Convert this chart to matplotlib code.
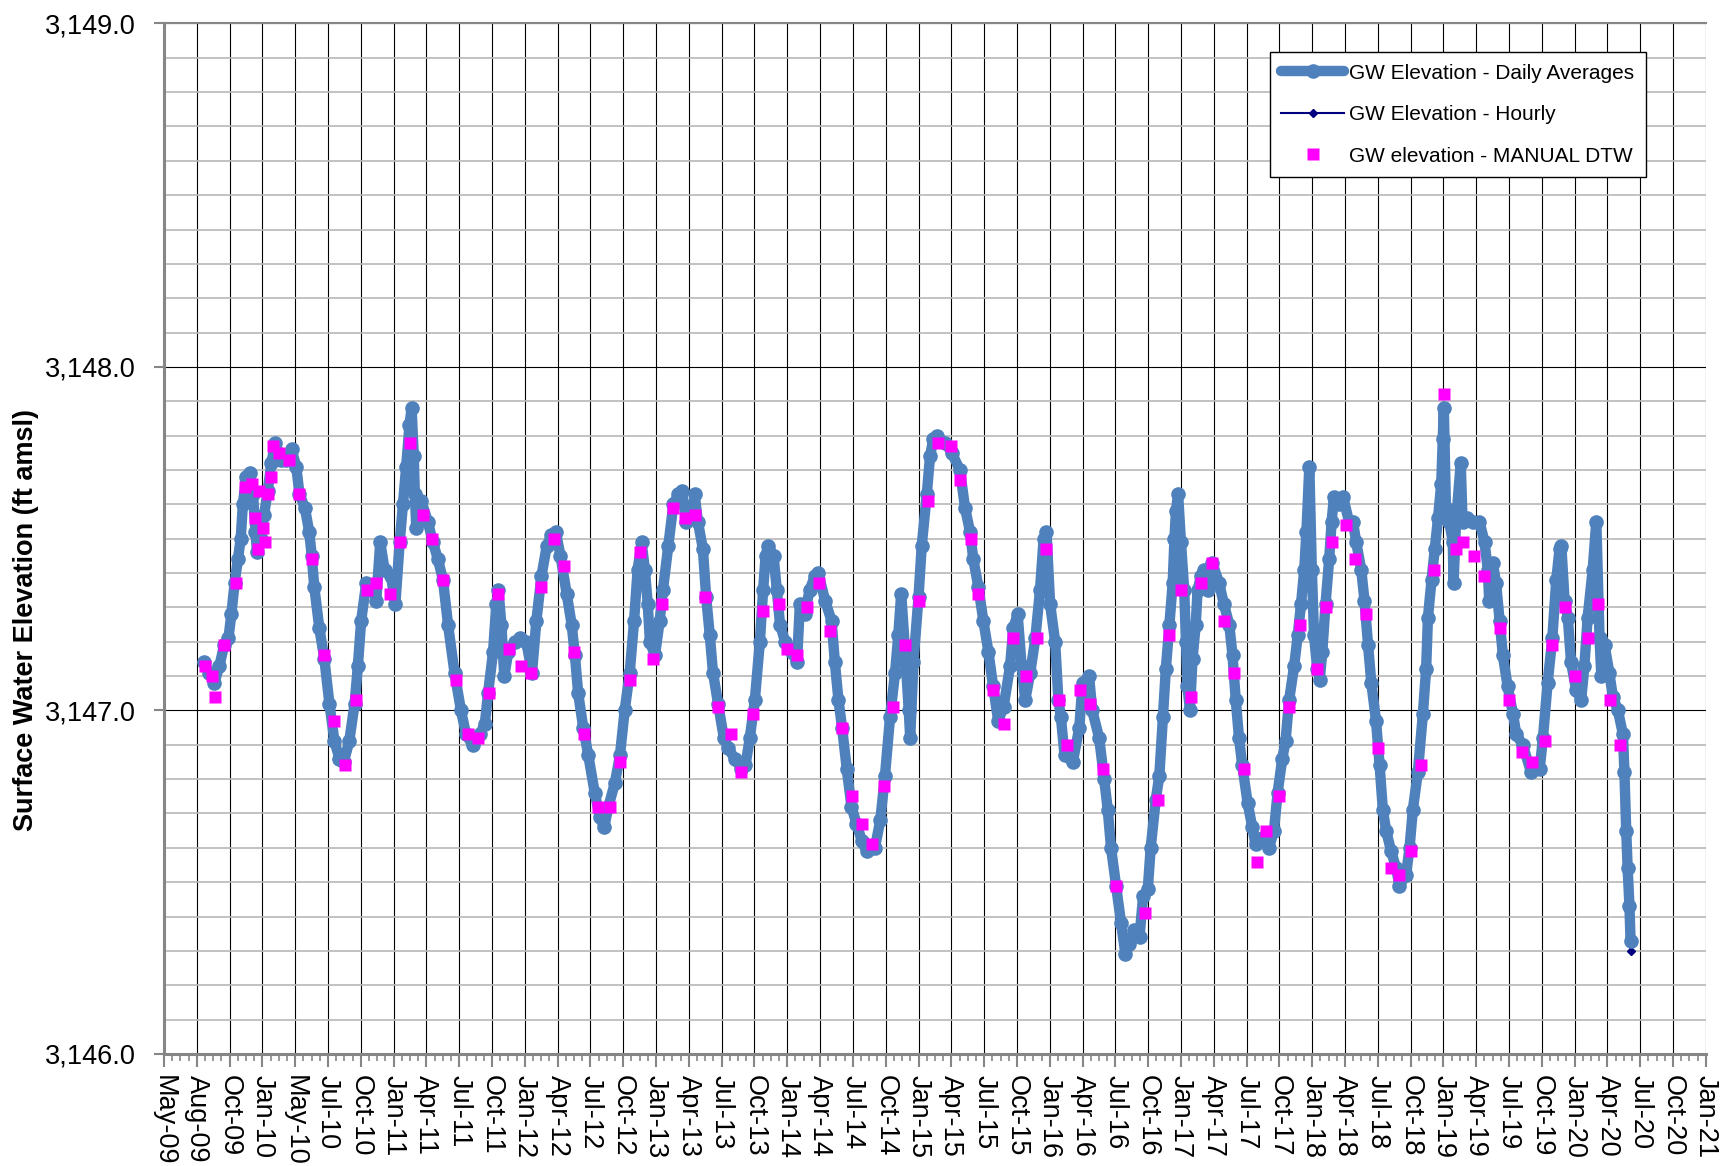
import matplotlib
matplotlib.use('Agg')
import matplotlib.pyplot as plt
import matplotlib.dates as mdates
import matplotlib.ticker as ticker
import pandas as pd
import datetime as dt

plt.rcParams['font.family'] = ['Liberation Sans', 'DejaVu Sans']

# GW elevation - daily averages (one line per year)
daily_dates = [
    '2009-08-20', '2009-09-05', '2009-09-19', '2009-10-03', '2009-10-16', '2009-10-28', '2009-11-05', '2009-11-14', '2009-11-23', '2009-12-01', '2009-12-07', '2009-12-16', '2009-12-26',
    '2010-01-04', '2010-01-11', '2010-01-15', '2010-01-25', '2010-02-04', '2010-02-14', '2010-02-24', '2010-03-07', '2010-03-23', '2010-04-06', '2010-04-21', '2010-05-04', '2010-05-13', '2010-05-28', '2010-06-09', '2010-06-16', '2010-06-23', '2010-07-07', '2010-07-21', '2010-08-04', '2010-08-18', '2010-09-01', '2010-09-13', '2010-09-28', '2010-10-13', '2010-10-22', '2010-10-31', '2010-11-14', '2010-11-29', '2010-12-12', '2010-12-23',
    '2011-01-04', '2011-01-22', '2011-02-03', '2011-02-15', '2011-02-24', '2011-03-05', '2011-03-14', '2011-03-20', '2011-03-26', '2011-03-29', '2011-04-02', '2011-04-16', '2011-05-04', '2011-05-18', '2011-06-01', '2011-06-15', '2011-06-29', '2011-07-17', '2011-08-04', '2011-08-18', '2011-09-05', '2011-09-25', '2011-10-09', '2011-10-18', '2011-11-01', '2011-11-10', '2011-11-16', '2011-11-24', '2011-12-02', '2011-12-13', '2011-12-31',
    '2012-01-14', '2012-02-01', '2012-02-17', '2012-02-29', '2012-03-14', '2012-03-29', '2012-04-11', '2012-04-23', '2012-05-06', '2012-05-23', '2012-06-06', '2012-06-15', '2012-06-24', '2012-07-08', '2012-07-22', '2012-08-09', '2012-08-23', '2012-09-04', '2012-09-16', '2012-10-04', '2012-10-18', '2012-10-31', '2012-11-14', '2012-11-26', '2012-12-06', '2012-12-17', '2012-12-26',
    '2013-01-03', '2013-01-09', '2013-01-23', '2013-02-05', '2013-02-14', '2013-03-01', '2013-03-15', '2013-03-29', '2013-04-07', '2013-04-20', '2013-05-04', '2013-05-13', '2013-05-22', '2013-06-05', '2013-06-14', '2013-06-24', '2013-07-03', '2013-07-17', '2013-08-02', '2013-08-14', '2013-09-01', '2013-09-20', '2013-10-01', '2013-10-13', '2013-10-27', '2013-11-10', '2013-11-19', '2013-11-26', '2013-12-03', '2013-12-18', '2013-12-27',
    '2014-01-05', '2014-01-19', '2014-02-06', '2014-02-21', '2014-03-01', '2014-03-14', '2014-03-28', '2014-04-11', '2014-04-21', '2014-05-10', '2014-05-28', '2014-06-06', '2014-06-16', '2014-06-26', '2014-07-09', '2014-07-22', '2014-08-05', '2014-08-20', '2014-09-02', '2014-09-25', '2014-10-10', '2014-10-23', '2014-11-06', '2014-11-20', '2014-11-29', '2014-12-07', '2014-12-18', '2014-12-28',
    '2015-01-01', '2015-01-10', '2015-01-24', '2015-02-02', '2015-02-16', '2015-02-25', '2015-03-06', '2015-03-15', '2015-04-08', '2015-04-26', '2015-05-19', '2015-06-02', '2015-06-16', '2015-06-25', '2015-07-09', '2015-07-23', '2015-08-06', '2015-08-19', '2015-09-02', '2015-09-17', '2015-10-05', '2015-10-14', '2015-10-26', '2015-11-06', '2015-11-16', '2015-11-30', '2015-12-14', '2015-12-27',
    '2016-01-06', '2016-01-14', '2016-01-24', '2016-02-07', '2016-02-16', '2016-02-23', '2016-03-04', '2016-03-27', '2016-04-14', '2016-04-23', '2016-05-11', '2016-05-20', '2016-06-08', '2016-06-22', '2016-07-02', '2016-07-11', '2016-07-25', '2016-08-08', '2016-08-20', '2016-08-31', '2016-09-14', '2016-09-28', '2016-10-08', '2016-10-21', '2016-10-29', '2016-11-12', '2016-11-22', '2016-12-02', '2016-12-10', '2016-12-20', '2016-12-29',
    '2017-01-03', '2017-01-07', '2017-01-13', '2017-01-21', '2017-01-30', '2017-02-04', '2017-02-08', '2017-02-15', '2017-02-22', '2017-03-03', '2017-03-08', '2017-03-17', '2017-03-27', '2017-04-05', '2017-04-18', '2017-05-07', '2017-05-20', '2017-06-04', '2017-06-13', '2017-06-22', '2017-07-01', '2017-07-10', '2017-07-25', '2017-08-07', '2017-08-16', '2017-09-04', '2017-09-22', '2017-10-06', '2017-10-16', '2017-10-29', '2017-11-07', '2017-11-17', '2017-12-01', '2017-12-11', '2017-12-20', '2017-12-29',
    '2018-01-04', '2018-01-12', '2018-01-19', '2018-01-25', '2018-02-03', '2018-02-10', '2018-02-17', '2018-02-26', '2018-03-08', '2018-03-15', '2018-03-21', '2018-04-05', '2018-04-16', '2018-05-02', '2018-05-13', '2018-05-22', '2018-06-05', '2018-06-14', '2018-06-24', '2018-07-03', '2018-07-16', '2018-07-26', '2018-08-04', '2018-08-13', '2018-08-27', '2018-09-10', '2018-09-19', '2018-10-07', '2018-10-17', '2018-10-26', '2018-11-09', '2018-11-23', '2018-12-02', '2018-12-07', '2018-12-17', '2018-12-26',
    '2019-01-04', '2019-01-13', '2019-01-17', '2019-01-20', '2019-01-26', '2019-02-04', '2019-02-14', '2019-02-16', '2019-02-23', '2019-03-08', '2019-03-13', '2019-03-26', '2019-04-10', '2019-04-29', '2019-05-13', '2019-05-22', '2019-05-26', '2019-06-05', '2019-06-14', '2019-06-24', '2019-07-03', '2019-07-16', '2019-07-31', '2019-08-09', '2019-08-27', '2019-09-19', '2019-10-13', '2019-10-22', '2019-11-04', '2019-11-17', '2019-11-28', '2019-12-07', '2019-12-12', '2019-12-21', '2019-12-30',
    '2020-01-08', '2020-01-22', '2020-02-05', '2020-02-14', '2020-02-23', '2020-03-08', '2020-03-18', '2020-03-27', '2020-04-01', '2020-04-10', '2020-04-23', '2020-05-03', '2020-05-17', '2020-05-31', '2020-06-04', '2020-06-09', '2020-06-13', '2020-06-18', '2020-06-21',
]
daily_elev = [
    3147.14, 3147.11, 3147.08, 3147.13, 3147.19, 3147.21, 3147.28, 3147.37, 3147.44, 3147.50, 3147.60, 3147.68, 3147.69,
    3147.63, 3147.52, 3147.46, 3147.50, 3147.57, 3147.64, 3147.72, 3147.78, 3147.73, 3147.73, 3147.76, 3147.71, 3147.63, 3147.59, 3147.52, 3147.45, 3147.36, 3147.24, 3147.15, 3147.02, 3146.91, 3146.86, 3146.85, 3146.91, 3147.02, 3147.13, 3147.26, 3147.37, 3147.36, 3147.32, 3147.49,
    3147.41, 3147.39, 3147.31, 3147.49, 3147.60, 3147.71, 3147.83, 3147.88, 3147.74, 3147.63, 3147.53, 3147.61, 3147.55, 3147.49, 3147.44, 3147.38, 3147.25, 3147.11, 3147.00, 3146.93, 3146.90, 3146.93, 3146.96, 3147.05, 3147.17, 3147.31, 3147.35, 3147.25, 3147.10, 3147.17, 3147.20,
    3147.21, 3147.20, 3147.11, 3147.26, 3147.39, 3147.48, 3147.51, 3147.52, 3147.45, 3147.34, 3147.25, 3147.16, 3147.05, 3146.95, 3146.87, 3146.76, 3146.69, 3146.66, 3146.72, 3146.79, 3146.87, 3147.00, 3147.11, 3147.26, 3147.41, 3147.49, 3147.41,
    3147.31, 3147.20, 3147.16, 3147.26, 3147.35, 3147.48, 3147.60, 3147.63, 3147.64, 3147.55, 3147.56, 3147.63, 3147.55, 3147.47, 3147.33, 3147.22, 3147.11, 3147.02, 3146.92, 3146.89, 3146.86, 3146.83, 3146.84, 3146.92, 3147.03, 3147.20, 3147.35, 3147.45, 3147.48, 3147.45, 3147.35,
    3147.25, 3147.20, 3147.17, 3147.14, 3147.31, 3147.28, 3147.35, 3147.39, 3147.40, 3147.32, 3147.26, 3147.14, 3147.03, 3146.95, 3146.83, 3146.72, 3146.67, 3146.62, 3146.59, 3146.60, 3146.68, 3146.81, 3146.98, 3147.11, 3147.22, 3147.34, 3147.17, 3147.00,
    3146.92, 3147.14, 3147.33, 3147.48, 3147.63, 3147.74, 3147.79, 3147.80, 3147.78, 3147.75, 3147.70, 3147.59, 3147.52, 3147.44, 3147.36, 3147.26, 3147.17, 3147.07, 3146.97, 3147.01, 3147.13, 3147.24, 3147.28, 3147.13, 3147.03, 3147.11, 3147.21, 3147.35,
    3147.50, 3147.52, 3147.31, 3147.20, 3147.03, 3146.98, 3146.87, 3146.85, 3146.95, 3147.08, 3147.10, 3147.00, 3146.92, 3146.80, 3146.71, 3146.60, 3146.49, 3146.38, 3146.29, 3146.32, 3146.36, 3146.34, 3146.46, 3146.48, 3146.60, 3146.74, 3146.81, 3146.98, 3147.12, 3147.25, 3147.37,
    3147.50, 3147.58, 3147.63, 3147.49, 3147.35, 3147.20, 3147.07, 3147.00, 3147.15, 3147.25, 3147.35, 3147.39, 3147.41, 3147.35, 3147.43, 3147.37, 3147.31, 3147.25, 3147.16, 3147.03, 3146.92, 3146.84, 3146.73, 3146.66, 3146.61, 3146.63, 3146.60, 3146.65, 3146.76, 3146.86, 3146.91, 3147.03, 3147.13, 3147.22, 3147.31, 3147.41,
    3147.52, 3147.71, 3147.41, 3147.22, 3147.12, 3147.09, 3147.17, 3147.31, 3147.44, 3147.55, 3147.62, 3147.60, 3147.62, 3147.55, 3147.55, 3147.49, 3147.41, 3147.32, 3147.19, 3147.08, 3146.97, 3146.84, 3146.71, 3146.65, 3146.59, 3146.54, 3146.49, 3146.52, 3146.60, 3146.71, 3146.82, 3146.99, 3147.12, 3147.27, 3147.38, 3147.47,
    3147.56, 3147.66, 3147.79, 3147.88, 3147.59, 3147.55, 3147.49, 3147.37, 3147.55, 3147.72, 3147.55, 3147.56, 3147.55, 3147.55, 3147.49, 3147.41, 3147.32, 3147.43, 3147.37, 3147.26, 3147.16, 3147.07, 3146.99, 3146.93, 3146.90, 3146.82, 3146.83, 3146.92, 3147.08, 3147.21, 3147.38, 3147.47, 3147.48, 3147.32, 3147.27,
    3147.14, 3147.06, 3147.03, 3147.13, 3147.27, 3147.41, 3147.55, 3147.21, 3147.10, 3147.19, 3147.11, 3147.04, 3147.00, 3146.93, 3146.82, 3146.65, 3146.54, 3146.43, 3146.33,
]

# GW elevation - hourly (only its last stretch shows past the daily line)
hourly_dates = ['2020-06-04', '2020-06-13', '2020-06-21']
hourly_elev = [3146.82, 3146.54, 3146.30]

# GW elevation - manual depth-to-water readings
manual_dates = [
    '2009-08-24', '2009-09-11', '2009-09-21', '2009-10-16', '2009-11-17', '2009-12-14', '2009-12-31',
    '2010-01-09', '2010-01-18', '2010-01-20', '2010-01-31', '2010-02-06', '2010-02-14', '2010-02-22', '2010-03-01', '2010-03-17', '2010-04-13', '2010-05-13', '2010-06-16', '2010-07-21', '2010-08-16', '2010-09-15', '2010-10-17', '2010-11-17', '2010-12-12',
    '2011-01-19', '2011-02-16', '2011-03-15', '2011-04-20', '2011-05-15', '2011-06-15', '2011-07-20', '2011-08-23', '2011-09-21', '2011-10-20', '2011-11-14', '2011-12-15',
    '2012-01-18', '2012-02-15', '2012-03-14', '2012-04-18', '2012-05-16', '2012-06-13', '2012-07-11', '2012-08-17', '2012-09-21', '2012-10-18', '2012-11-14', '2012-12-12',
    '2013-01-17', '2013-02-12', '2013-03-13', '2013-04-17', '2013-05-13', '2013-06-11', '2013-07-17', '2013-08-22', '2013-09-19', '2013-10-22', '2013-11-20',
    '2014-01-01', '2014-01-23', '2014-02-20', '2014-03-20', '2014-04-23', '2014-05-23', '2014-06-27', '2014-07-24', '2014-08-21', '2014-09-18', '2014-10-21', '2014-11-13', '2014-12-18',
    '2015-01-25', '2015-02-19', '2015-03-18', '2015-04-23', '2015-05-20', '2015-06-19', '2015-07-09', '2015-08-19', '2015-09-17', '2015-10-14', '2015-11-19', '2015-12-18',
    '2016-01-14', '2016-02-18', '2016-03-12', '2016-04-16', '2016-05-13', '2016-06-20', '2016-07-25', '2016-10-14', '2016-11-18', '2016-12-20',
    '2017-01-21', '2017-02-18', '2017-03-17', '2017-04-18', '2017-05-20', '2017-06-18', '2017-07-15', '2017-08-19', '2017-09-15', '2017-10-20', '2017-11-17', '2017-12-17',
    '2018-02-01', '2018-02-28', '2018-03-16', '2018-04-23', '2018-05-18', '2018-06-17', '2018-07-21', '2018-08-27', '2018-09-17', '2018-10-22', '2018-11-18', '2018-12-23',
    '2019-01-20', '2019-02-23', '2019-03-15', '2019-04-13', '2019-05-11', '2019-06-24', '2019-07-21', '2019-08-25', '2019-09-23', '2019-10-28', '2019-11-17', '2019-12-23',
    '2020-01-20', '2020-02-23', '2020-03-22', '2020-04-26', '2020-05-24',
]
manual_elev = [
    3147.13, 3147.10, 3147.04, 3147.19, 3147.37, 3147.65, 3147.66,
    3147.56, 3147.47, 3147.64, 3147.53, 3147.49, 3147.63, 3147.68, 3147.77, 3147.75, 3147.73, 3147.63, 3147.44, 3147.16, 3146.97, 3146.84, 3147.03, 3147.35, 3147.37,
    3147.34, 3147.49, 3147.78, 3147.57, 3147.50, 3147.38, 3147.09, 3146.93, 3146.92, 3147.05, 3147.34, 3147.18,
    3147.13, 3147.11, 3147.36, 3147.50, 3147.42, 3147.17, 3146.93, 3146.72, 3146.72, 3146.85, 3147.09, 3147.46,
    3147.15, 3147.31, 3147.59, 3147.56, 3147.57, 3147.33, 3147.01, 3146.93, 3146.82, 3146.99, 3147.29,
    3147.31, 3147.18, 3147.16, 3147.30, 3147.37, 3147.23, 3146.95, 3146.75, 3146.67, 3146.61, 3146.78, 3147.01, 3147.19,
    3147.32, 3147.61, 3147.78, 3147.77, 3147.67, 3147.50, 3147.34, 3147.06, 3146.96, 3147.21, 3147.10, 3147.21,
    3147.47, 3147.03, 3146.90, 3147.06, 3147.02, 3146.83, 3146.49, 3146.41, 3146.74, 3147.22,
    3147.35, 3147.04, 3147.37, 3147.43, 3147.26, 3147.11, 3146.83, 3146.56, 3146.65, 3146.75, 3147.01, 3147.25,
    3147.12, 3147.30, 3147.49, 3147.54, 3147.44, 3147.28, 3146.89, 3146.54, 3146.52, 3146.59, 3146.84, 3147.41,
    3147.92, 3147.47, 3147.49, 3147.45, 3147.39, 3147.24, 3147.03, 3146.88, 3146.85, 3146.91, 3147.19, 3147.30,
    3147.10, 3147.21, 3147.31, 3147.03, 3146.90,
]

# axis range and date tick spacing (Excel style: a label every 91 days)
x_start = dt.date(2009, 5, 2)
x_end = dt.date(2021, 1, 16)
tick_days = 91
y_min, y_max = 3146.0, 3149.0

BLUE = '#4F81BD'
NAVY = '#000080'
MAGENTA = '#FF00FF'
AXIS_GREY = '#868686'


def main():
    fig = plt.figure(figsize=(17.2, 11.66), dpi=100)
    ax = fig.add_axes([0.0953, 0.0961, 0.8965, 0.8838])

    # series
    ax.plot(pd.to_datetime(hourly_dates), hourly_elev, color=NAVY, lw=1.5,
            marker='D', ms=4, zorder=2.5, label='GW Elevation - Hourly')
    ax.plot(pd.to_datetime(daily_dates), daily_elev, color=BLUE, lw=7.5,
            marker='o', ms=9.5, mec=BLUE, mfc=BLUE, solid_joinstyle='round',
            solid_capstyle='round', zorder=3, label='GW Elevation - Daily Averages')
    ax.plot(pd.to_datetime(manual_dates), manual_elev, ls='none', marker='s',
            ms=9.2, mfc=MAGENTA, mec='none', zorder=4,
            label='GW elevation - MANUAL DTW')

    # y axis
    ax.set_ylim(y_min, y_max)
    ax.yaxis.set_major_locator(ticker.MultipleLocator(1.0))
    ax.yaxis.set_minor_locator(ticker.MultipleLocator(0.1))
    ax.yaxis.set_major_formatter(ticker.FuncFormatter(lambda v, p: f'{v:,.1f}'))
    ax.set_ylabel('Surface Water Elevation (ft amsl)', fontsize=19.5,
                  fontweight='bold')
    ax.yaxis.set_label_coords(-0.081, 0.421)

    # x axis
    x0 = mdates.date2num(x_start)
    x1 = mdates.date2num(x_end)
    ax.set_xlim(x0, x1)
    n_ticks = int(round((x1 - x0) / tick_days))
    ax.xaxis.set_major_locator(ticker.FixedLocator([x0 + tick_days * i for i in range(n_ticks + 1)]))
    ax.xaxis.set_minor_locator(ticker.FixedLocator([x0 + tick_days * i / 4.0 for i in range(n_ticks * 4 + 1)]))
    ax.xaxis.set_major_formatter(mdates.DateFormatter('%b-%y'))

    # grid
    ax.grid(which='minor', axis='y', color='#b8b8b8', lw=1.2, zorder=0)
    ax.grid(which='major', axis='y', color='black', lw=0.8, zorder=0)
    ax.grid(which='major', axis='x', color='black', lw=0.8, zorder=0)
    ax.set_axisbelow(True)

    ax.tick_params(axis='y', which='major', length=7, width=1.5, color=AXIS_GREY,
                   pad=13, labelsize=19.5)
    ax.tick_params(axis='y', which='minor', length=0)
    ax.tick_params(axis='x', which='major', length=9, width=1.5, color=AXIS_GREY,
                   pad=6, labelsize=19.5, labelrotation=-90)
    ax.tick_params(axis='x', which='minor', length=5, width=1.2, color=AXIS_GREY)

    for side in ['left', 'bottom']:
        ax.spines[side].set_color(AXIS_GREY)
        ax.spines[side].set_linewidth(2.2)
    ax.spines['top'].set_color(AXIS_GREY)
    ax.spines['top'].set_linewidth(1.5)
    ax.spines['right'].set_visible(False)

    # legend in the requested order
    handles, labels = ax.get_legend_handles_labels()
    order = [1, 0, 2]
    leg = ax.legend([handles[i] for i in order], [labels[i] for i in order],
                    loc='upper right', bbox_to_anchor=(0.961, 0.972),
                    fontsize=15, frameon=True, fancybox=False, framealpha=1,
                    edgecolor='black', handlelength=3.0, handletextpad=0.25,
                    labelspacing=1.08, borderpad=0.55, borderaxespad=0)
    leg.get_frame().set_linewidth(1.0)

    fig.savefig('out.png', dpi=100)


if __name__ == '__main__':
    main()
